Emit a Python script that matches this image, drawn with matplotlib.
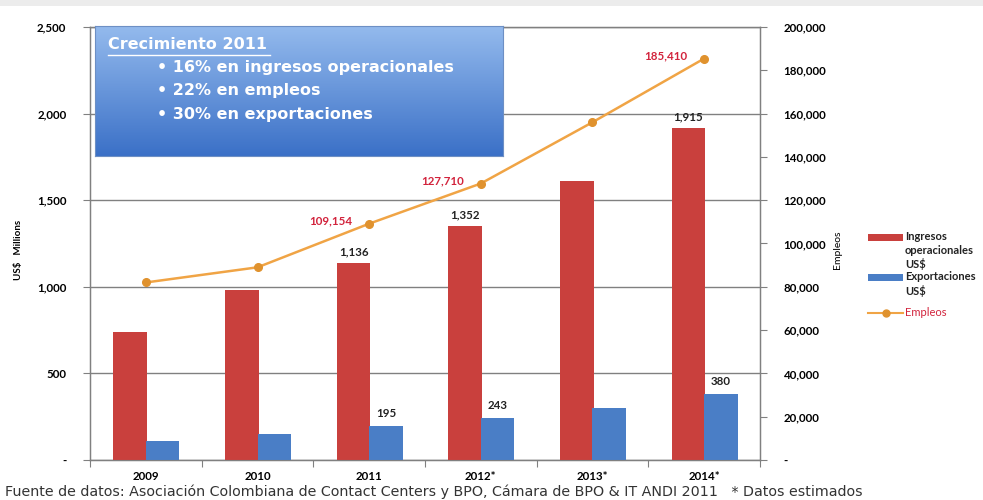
import matplotlib.pyplot as plt
import numpy as np
from matplotlib.patches import Rectangle
from matplotlib.lines import Line2D
from matplotlib.ticker import FuncFormatter

# datos del sector BPO (US$ millones y empleos)
years = ["2009", "2010", "2011", "2012*", "2013*", "2014*"]
ingresos = [740, 980, 1136, 1352, 1610, 1915]
exportaciones = [110, 150, 195, 243, 300, 380]
empleos = [82000, 89000, 109154, 127710, 156000, 185410]

# solo algunos puntos llevan etiqueta
ingresos_labels = [None, None, "1,136", "1,352", None, "1,915"]
export_labels = [None, None, "195", "243", None, "380"]
empleos_labels = [None, None, "109,154", "127,710", None, "185,410"]

red = "#c9403d"
blue = "#4a7ec6"
orange = "#f0a445"
orange_dark = "#e0922e"
label_red = "#d2233c"
grid_col = "#808080"
tick_font = "Lato"
fs = 8.3

fig = plt.figure(figsize=(9.83, 5.0), dpi=100)
fig.patch.set_facecolor("white")

# franja gris clara arriba
fig.patches.append(Rectangle((0, 0.988), 1, 0.012, transform=fig.transFigure,
                             facecolor="#ececec", edgecolor="none", zorder=0))

ax = fig.add_axes([0.0916, 0.08, 0.6815, 0.866])
x = np.arange(len(years))
w = 0.3

ax.bar(x - 0.14, ingresos, width=w, color=red, zorder=3)
ax.bar(x + 0.15, exportaciones, width=w, color=blue, zorder=3)

for xi, v, lab in zip(x, ingresos, ingresos_labels):
    if lab:
        ax.annotate(lab, (xi - 0.14, v), xytext=(0, 4), textcoords="offset points",
                    ha="center", va="bottom", fontsize=fs, fontweight="bold",
                    family=tick_font, color="#222222")
for xi, v, lab in zip(x, exportaciones, export_labels):
    if lab:
        ax.annotate(lab, (xi + 0.15, v), xytext=(0, 5), textcoords="offset points",
                    ha="center", va="bottom", fontsize=fs, fontweight="bold",
                    family=tick_font, color="#222222")

ax.set_xlim(-0.5, len(years) - 0.5)
ax.set_ylim(0, 2500)
ax.set_yticks([0, 500, 1000, 1500, 2000, 2500])
ax.yaxis.set_major_formatter(FuncFormatter(lambda v, p: "-" if v == 0 else f"{int(v):,}"))
ax.yaxis.grid(True, color=grid_col, linewidth=1.0, zorder=0)
ax.set_axisbelow(True)

# separadores entre categorias y etiquetas centradas
ax.set_xticks(np.arange(-0.5, len(years), 1.0))
ax.set_xticklabels([])
ax.set_xticks(x, minor=True)
ax.set_xticklabels(years, minor=True, fontsize=fs, fontweight="bold", family=tick_font)
ax.tick_params(axis="x", which="major", length=5, color=grid_col)
ax.tick_params(axis="x", which="minor", length=0, pad=8)
ax.tick_params(axis="y", length=5, color=grid_col, labelsize=fs, pad=12)
for t in ax.get_yticklabels():
    t.set_fontweight("bold")
    t.set_family(tick_font)

for side in ["left", "right", "bottom", "top"]:
    ax.spines[side].set_color(grid_col)
    ax.spines[side].set_linewidth(1.0)

fig.text(0.019, 0.5, "US$   Millions", rotation=90, ha="center", va="center",
         fontsize=7, fontweight="bold", family=tick_font)

# eje derecho: empleos
ax2 = ax.twinx()
ax2.plot(x, empleos, color=orange, linewidth=1.8, marker="o", markersize=5.5,
         markerfacecolor=orange_dark, markeredgecolor=orange_dark, zorder=5)
ax2.set_ylim(0, 200000)
ax2.set_yticks(np.arange(0, 200001, 20000))
ax2.yaxis.set_major_formatter(FuncFormatter(lambda v, p: "-" if v == 0 else f"{int(v):,}"))
ax2.tick_params(axis="y", length=5, color=grid_col, labelsize=fs, pad=12)
for t in ax2.get_yticklabels():
    t.set_fontweight("bold")
    t.set_family(tick_font)
for side in ["left", "right", "bottom", "top"]:
    ax2.spines[side].set_color(grid_col)

for xi, v, lab in zip(x, empleos, empleos_labels):
    if lab:
        ax2.annotate(lab, (xi, v), xytext=(-12, 2), textcoords="offset points",
                     ha="right", va="center", fontsize=fs, fontweight="bold",
                     family=tick_font, color=label_red)

fig.text(0.852, 0.5, "Empleos", rotation=90, ha="center", va="center",
         fontsize=7.5, family=tick_font)

# cuadro de texto con degradado azul
box = fig.add_axes([0.0966, 0.688, 0.415, 0.26])
grad = np.linspace(0, 1, 256)
top_c = np.array([0.58, 0.73, 0.93])
bot_c = np.array([0.23, 0.44, 0.78])
img = top_c[None, None, :] + (bot_c - top_c)[None, None, :] * grad[:, None, None]
box.imshow(img, aspect="auto", extent=[0, 1, 0, 1], origin="upper")
box.set_xlim(0, 1)
box.set_ylim(0, 1)
box.set_xticks([])
box.set_yticks([])
for s in box.spines.values():
    s.set_color("#6d8fc4")
    s.set_linewidth(0.8)

box.text(0.032, 0.855, "Crecimiento 2011", color="white", fontsize=11.5,
         fontweight="bold", family="DejaVu Sans", va="center", ha="left")
box.plot([0.032, 0.43], [0.78, 0.78], color="white", linewidth=1.0)
bullets = ["16% en ingresos operacionales", "22% en empleos", "30% en exportaciones"]
for i, b in enumerate(bullets):
    box.text(0.152, 0.68 - i * 0.18, "\u2022 " + b, color="white", fontsize=11.5,
             fontweight="bold", family="DejaVu Sans", va="center", ha="left")

# leyenda dibujada a mano (el texto arranca en la primera linea)
def fy(py):
    return 1 - py / 500.0

lx0, lx1, ltx = 868 / 983, 903 / 983, 905 / 983
fig.patches.append(Rectangle((lx0, fy(241)), lx1 - lx0, 7 / 500, transform=fig.transFigure,
                             facecolor=red, edgecolor="none"))
fig.patches.append(Rectangle((lx0, fy(281)), lx1 - lx0, 7 / 500, transform=fig.transFigure,
                             facecolor=blue, edgecolor="none"))
fig.lines.append(Line2D([lx0, lx1], [fy(313), fy(313)], transform=fig.transFigure,
                        color=orange, linewidth=1.5))
fig.lines.append(Line2D([(lx0 + lx1) / 2], [fy(313)], transform=fig.transFigure,
                        marker="o", markersize=5, color=orange_dark))
leg_kw = dict(fontsize=8, family=tick_font, fontweight="bold", ha="left", va="center")
for py, txt in [(237, "Ingresos"), (251, "operacionales"), (264, "US$"),
                (277, "Exportaciones"), (291, "US$")]:
    fig.text(ltx, fy(py), txt, color="#222222", **leg_kw)
fig.text(ltx, fy(313), "Empleos", color=label_red, fontsize=8, family=tick_font,
         ha="left", va="center")

fig.text(0.005, 0.016,
         "Fuente de datos: Asociación Colombiana de Contact Centers y BPO, Cámara de BPO & IT ANDI 2011   * Datos estimados",
         fontsize=10.3, family="DejaVu Sans", color="#333333", ha="left", va="center")

fig.savefig("out.png", dpi=100, facecolor="white")
